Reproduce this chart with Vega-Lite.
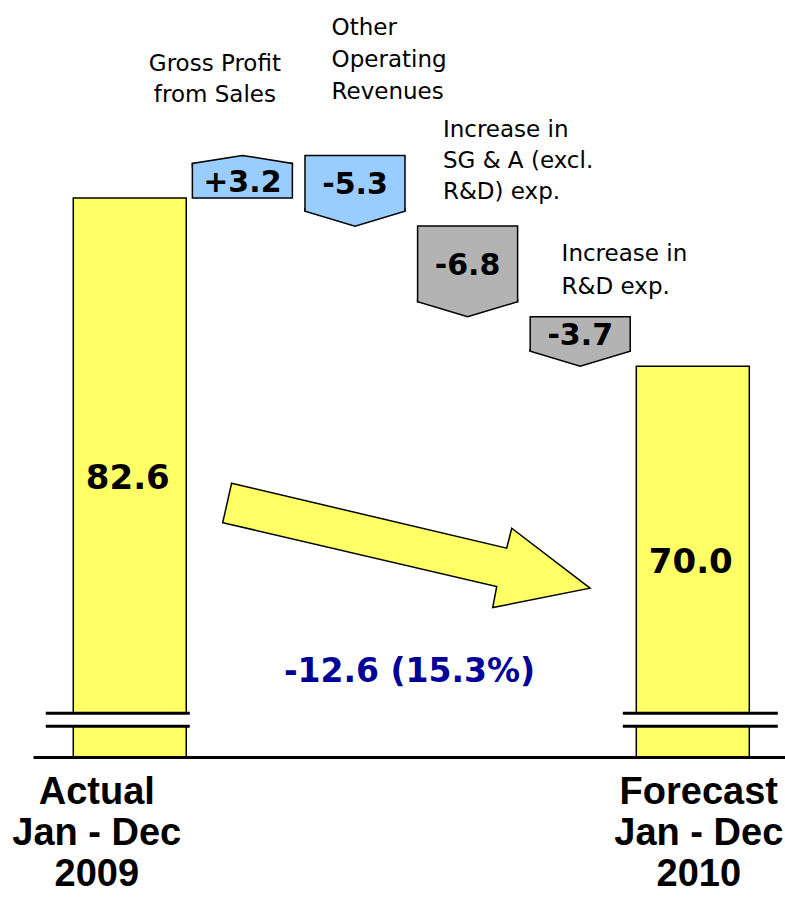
{
  "$schema": "https://vega.github.io/schema/vega-lite/v6.json",
  "width": 752,
  "height": 757,
  "padding": {"left": 33, "top": 0, "right": 0, "bottom": 140},
  "autosize": {"type": "none"},
  "background": "white",
  "config": {"view": {"stroke": null}},
  "data": {
    "values": [
      {"name": "Actual\nJan - Dec\n2009", "type": "total", "value": 82.6, "end": 82.6, "label": "82.6"},
      {"name": "Gross Profit\nfrom Sales", "type": "revenue", "value": 3.2, "start": 82.6, "end": 85.8, "label": "+3.2"},
      {"name": "Other\nOperating\nRevenues", "type": "revenue", "value": -5.3, "start": 85.8, "end": 80.5, "label": "-5.3"},
      {"name": "Increase in\nSG & A  (excl.\nR&D) exp.", "type": "expense", "value": -6.8, "start": 80.5, "end": 73.7, "label": "-6.8"},
      {"name": "Increase in\nR&D exp.", "type": "expense", "value": -3.7, "start": 73.7, "end": 70.0, "label": "-3.7"},
      {"name": "Forecast\nJan - Dec\n2010", "type": "total", "value": 70.0, "end": 70.0, "label": "70.0", "change": "-12.6 (15.3%)"}
    ]
  },
  "encoding": {
    "x": {
      "field": "name",
      "type": "nominal",
      "scale": {
        "domain": ["Actual\nJan - Dec\n2009", "Gross Profit\nfrom Sales", "Other\nOperating\nRevenues", "Increase in\nSG & A  (excl.\nR&D) exp.", "Increase in\nR&D exp.", "Forecast\nJan - Dec\n2010"],
        "paddingInner": 0,
        "paddingOuter": 0.339,
        "align": 0.53
      },
      "axis": {
        "title": null,
        "orient": "bottom",
        "grid": false,
        "domainColor": "black",
        "domainWidth": 3,
        "ticks": false,
        "labelAngle": 0,
        "labelFont": "Liberation Sans",
        "labelFontWeight": "bold",
        "labelFontSize": 38,
        "labelLineHeight": 41,
        "labelColor": "black",
        "labelPadding": 16,
        "labelBaseline": "top",
        "labelOverlap": false,
        "labelBound": false,
        "labelFlush": false,
        "labelLimit": 0,
        "zindex": 1,
        "labelExpr": "indexof(datum.label, 'Jan - Dec') >= 0 ? split(datum.label, '\\n') : ''",
        "labelOffset": {"condition": {"test": "indexof(datum.value, '2009') >= 0", "value": -33}, "value": 6}
      }
    }
  },
  "layer": [
    {
      "layer": [
        {
          "transform": [{"filter": "datum.type == 'total'"}],
          "mark": {"type": "bar", "width": 113, "stroke": "black", "strokeWidth": 1.5, "opacity": 1, "clip": true},
          "encoding": {
            "y": {"field": "end", "type": "quantitative", "scale": {"domain": [40.7, 97.45], "zero": false, "nice": false}, "axis": null},
            "color": {"field": "type", "type": "nominal", "scale": {"domain": ["total", "revenue", "expense"], "range": ["#FFFF66", "#99CCFF", "#B3B3B3"]}, "legend": null}
          }
        },
        {
          "transform": [{"filter": "datum.type == 'total' && datum.value > 80"}],
          "mark": {"type": "tick", "color": "black", "thickness": 16, "size": 144, "xOffset": -12, "opacity": 1},
          "encoding": {
            "y": {"datum": 43.5, "type": "quantitative", "scale": {"domain": [40.7, 97.45], "zero": false, "nice": false}, "axis": null}
          }
        },
        {
          "transform": [{"filter": "datum.type == 'total' && datum.value > 80"}],
          "mark": {"type": "tick", "color": "white", "thickness": 10, "size": 150, "xOffset": -12, "opacity": 1},
          "encoding": {
            "y": {"datum": 43.5, "type": "quantitative", "scale": {"domain": [40.7, 97.45], "zero": false, "nice": false}, "axis": null}
          }
        },
        {
          "transform": [{"filter": "datum.type == 'total' && datum.value < 80"}],
          "mark": {"type": "tick", "color": "black", "thickness": 16, "size": 155, "xOffset": 7.5, "opacity": 1},
          "encoding": {
            "y": {"datum": 43.5, "type": "quantitative", "scale": {"domain": [40.7, 97.45], "zero": false, "nice": false}, "axis": null}
          }
        },
        {
          "transform": [{"filter": "datum.type == 'total' && datum.value < 80"}],
          "mark": {"type": "tick", "color": "white", "thickness": 10, "size": 161, "xOffset": 7.5, "opacity": 1},
          "encoding": {
            "y": {"datum": 43.5, "type": "quantitative", "scale": {"domain": [40.7, 97.45], "zero": false, "nice": false}, "axis": null}
          }
        },
        {
          "transform": [{"filter": "datum.type != 'total' && datum.value > 0"}],
          "mark": {"type": "bar", "width": 100, "y2Offset": 8, "stroke": "black", "strokeWidth": 1.5, "opacity": 1},
          "encoding": {
            "y": {"field": "start", "type": "quantitative", "scale": {"domain": [40.7, 97.45], "zero": false, "nice": false}, "axis": null},
            "y2": {"field": "end"},
            "color": {"field": "type", "type": "nominal", "scale": {"domain": ["total", "revenue", "expense"], "range": ["#FFFF66", "#99CCFF", "#B3B3B3"]}, "legend": null}
          }
        },
        {
          "transform": [{"filter": "datum.type != 'total' && datum.value < 0"}],
          "mark": {"type": "bar", "width": 100, "y2Offset": -15, "stroke": "black", "strokeWidth": 1.5, "opacity": 1},
          "encoding": {
            "y": {"field": "start", "type": "quantitative", "scale": {"domain": [40.7, 97.45], "zero": false, "nice": false}, "axis": null},
            "y2": {"field": "end"},
            "color": {"field": "type", "type": "nominal", "scale": {"domain": ["total", "revenue", "expense"], "range": ["#FFFF66", "#99CCFF", "#B3B3B3"]}, "legend": null}
          }
        },
        {
          "transform": [{"filter": "datum.type != 'total' && datum.value > 0"}],
          "mark": {"type": "point", "shape": "M -1 0.24 L -1 0.16 L 0 0 L 1 0.16 L 1 0.24", "size": 10000, "filled": true, "opacity": 1, "stroke": "black", "strokeWidth": 1.5},
          "encoding": {
            "y": {"field": "end", "type": "quantitative", "scale": {"domain": [40.7, 97.45], "zero": false, "nice": false}, "axis": null},
            "color": {"field": "type", "type": "nominal", "scale": {"domain": ["total", "revenue", "expense"], "range": ["#FFFF66", "#99CCFF", "#B3B3B3"]}, "legend": null}
          }
        },
        {
          "transform": [{"filter": "datum.type != 'total' && datum.value < 0"}],
          "mark": {"type": "point", "shape": "M -1 -0.36 L -1 -0.3 L 0 0 L 1 -0.3 L 1 -0.36", "size": 10000, "filled": true, "opacity": 1, "stroke": "black", "strokeWidth": 1.5},
          "encoding": {
            "y": {"field": "end", "type": "quantitative", "scale": {"domain": [40.7, 97.45], "zero": false, "nice": false}, "axis": null},
            "color": {"field": "type", "type": "nominal", "scale": {"domain": ["total", "revenue", "expense"], "range": ["#FFFF66", "#99CCFF", "#B3B3B3"]}, "legend": null}
          }
        },
        {
          "transform": [
            {"filter": "datum.type != 'total' && datum.value > 0"},
            {"fold": ["start", "end"], "as": ["k", "v"]}
          ],
          "mark": {"type": "text", "font": "DejaVu Sans", "fontWeight": "bold", "fontSize": 30, "baseline": "middle", "align": "center", "dy": 6, "color": "black"},
          "encoding": {
            "y": {"field": "v", "aggregate": "mean", "type": "quantitative", "scale": {"domain": [40.7, 97.45], "zero": false, "nice": false}, "axis": null},
            "text": {"field": "label", "type": "nominal"}
          }
        },
        {
          "transform": [
            {"filter": "datum.type != 'total' && datum.value < 0"},
            {"fold": ["start", "end"], "as": ["k", "v"]}
          ],
          "mark": {"type": "text", "font": "DejaVu Sans", "fontWeight": "bold", "fontSize": 30, "baseline": "middle", "align": "center", "dy": -5.5, "color": "black"},
          "encoding": {
            "y": {"field": "v", "aggregate": "mean", "type": "quantitative", "scale": {"domain": [40.7, 97.45], "zero": false, "nice": false}, "axis": null},
            "text": {"field": "label", "type": "nominal"}
          }
        },
        {
          "transform": [{"filter": "indexof(datum.name, 'Gross Profit') >= 0"}],
          "mark": {"type": "text", "font": "DejaVu Sans", "fontSize": 23, "lineHeight": 31, "lineBreak": "\n", "baseline": "bottom", "align": "center", "dx": -27.5, "dy": -79.2, "color": "black"},
          "encoding": {
            "y": {"field": "end", "type": "quantitative", "scale": {"domain": [40.7, 97.45], "zero": false, "nice": false}, "axis": null},
            "text": {"field": "name", "type": "nominal"}
          }
        },
        {
          "transform": [{"filter": "indexof(datum.name, 'Revenues') >= 0"}],
          "mark": {"type": "text", "font": "DejaVu Sans", "fontSize": 23, "lineHeight": 32, "lineBreak": "\n", "baseline": "bottom", "align": "left", "dx": -23.4, "dy": -115.9, "color": "black"},
          "encoding": {
            "y": {"field": "start", "type": "quantitative", "scale": {"domain": [40.7, 97.45], "zero": false, "nice": false}, "axis": null},
            "text": {"field": "name", "type": "nominal"}
          }
        },
        {
          "transform": [{"filter": "indexof(datum.name, 'SG & A') >= 0"}],
          "mark": {"type": "text", "font": "DejaVu Sans", "fontSize": 23, "lineHeight": 31, "lineBreak": "\n", "baseline": "bottom", "align": "left", "dx": -24.7, "dy": -84.5, "color": "black"},
          "encoding": {
            "y": {"field": "start", "type": "quantitative", "scale": {"domain": [40.7, 97.45], "zero": false, "nice": false}, "axis": null},
            "text": {"field": "name", "type": "nominal"}
          }
        },
        {
          "transform": [{"filter": "datum.name == 'Increase in\\nR&D exp.'"}],
          "mark": {"type": "text", "font": "DejaVu Sans", "fontSize": 23, "lineHeight": 33, "lineBreak": "\n", "baseline": "bottom", "align": "left", "dx": -18.6, "dy": -50.5, "color": "black"},
          "encoding": {
            "y": {"field": "start", "type": "quantitative", "scale": {"domain": [40.7, 97.45], "zero": false, "nice": false}, "axis": null},
            "text": {"field": "name", "type": "nominal"}
          }
        },
        {
          "transform": [{"filter": "isValid(datum.change)"}],
          "mark": {"type": "point", "shape": "M -2.306 -0.3085 L -0.9305 0.0165 L -0.9055 -0.0835 L -0.514 0.2165 L -1.0005 0.3135 L -0.9805 0.2085 L -2.3505 -0.1115 Z", "size": 160000, "filled": true, "fill": "#FFFF66", "opacity": 1, "stroke": "black", "strokeWidth": 1.5},
          "encoding": {
            "y": {"datum": 56.6, "type": "quantitative", "scale": {"domain": [40.7, 97.45], "zero": false, "nice": false}, "axis": null}
          }
        },
        {
          "transform": [{"filter": "isValid(datum.change)"}],
          "mark": {"type": "text", "font": "DejaVu Sans", "fontWeight": "bold", "fontSize": 33, "baseline": "middle", "align": "center", "dx": -283.3, "color": "#000099"},
          "encoding": {
            "y": {"datum": 47.04, "type": "quantitative", "scale": {"domain": [40.7, 97.45], "zero": false, "nice": false}, "axis": null},
            "text": {"field": "change", "type": "nominal"}
          }
        }
      ]
    },
    {
      "transform": [{"filter": "datum.type == 'total'"}],
      "mark": {"type": "text", "font": "DejaVu Sans", "fontWeight": "bold", "fontSize": 34, "baseline": "middle", "align": "center", "dx": -2, "dy": 1, "color": "black"},
      "encoding": {
        "y": {"field": "end", "type": "quantitative", "scale": {"domain": [40.7, 154.2], "zero": false, "nice": false}, "axis": null},
        "text": {"field": "label", "type": "nominal"}
      }
    }
  ],
  "resolve": {"scale": {"y": "independent"}}
}
